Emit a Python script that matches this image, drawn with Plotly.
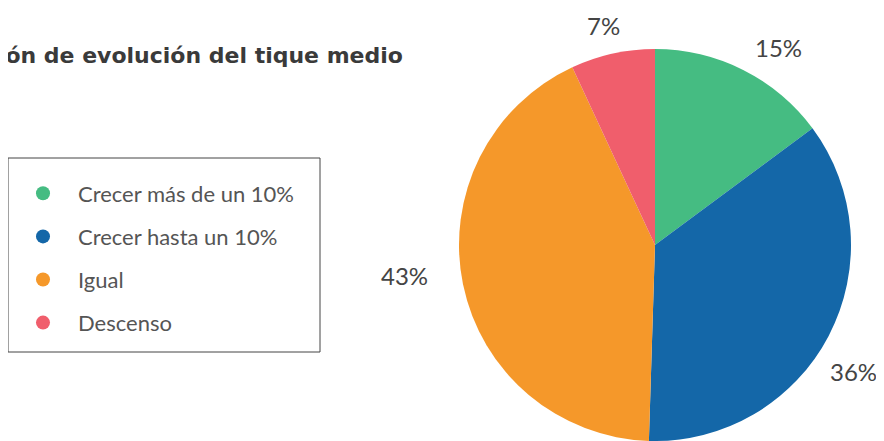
import math
import plotly.graph_objects as go

categories = ["Crecer más de un 10%", "Crecer hasta un 10%", "Igual", "Descenso"]
values = [15, 36, 43, 7]
labels_txt = ["15%", "36%", "43%", "7%"]
colors = ["#45BC82", "#1467A8", "#F5982A", "#F05E6C"]
title_text = "Previsión de evolución del tique medio"

OFF = 8  # page body margin
W, H = 884 - OFF, 441 - OFF


def px(x):
    return (x - OFF) / W


def py(y):
    return 1 - (y - OFF) / H


cx, cy, R = 655, 245, 196

fig = go.Figure()
fig.add_trace(go.Pie(
    labels=categories, values=values, sort=False, direction="clockwise",
    rotation=0, marker=dict(colors=colors, line=dict(width=0)),
    textinfo="none", showlegend=False, hoverinfo="label+percent",
    domain=dict(x=[px(cx - R), px(cx + R)], y=[py(cy + R), py(cy - R)]),
))

# legend entries as circles
for c, col in zip(categories, colors):
    fig.add_trace(go.Scatter(x=[None], y=[None], mode="markers", name=c,
                             legendgroup=c,
                             marker=dict(symbol="circle", size=14, color=col)))

# outside percentage labels, placed near slice mid-angles
total = sum(values)
cum = 0
dists = [1.19, 1.2, 1.29, 1.153]
shifts = [5.2, 4.9, 4.6, -0.8]
for v, t, d, s in zip(values, labels_txt, dists, shifts):
    mid = (cum + v / 2) / total * 2 * math.pi + math.radians(s)
    cum += v
    lx = cx + d * R * math.sin(mid)
    ly = cy - d * R * math.cos(mid)
    fig.add_annotation(x=px(lx), y=py(ly), xref="paper", yref="paper",
                       xanchor="center", yanchor="middle",
                       text=t, showarrow=False,
                       font=dict(size=24, color="#444444", family="Lato"))

fig.add_annotation(x=px(405), y=py(55), xref="paper", yref="paper",
                   xanchor="right", yanchor="middle", text="<b>" + title_text + "</b>",
                   showarrow=False, font=dict(size=22, color="#3a3a3a", family="DejaVu Sans"))

fig.add_shape(type="rect", xref="paper", yref="paper",
              x0=px(8), x1=px(320), y0=py(158), y1=py(352),
              line=dict(color="#444444", width=1))

fig.update_layout(
    width=W, height=H, margin=dict(l=0, r=0, t=0, b=0),
    paper_bgcolor="white", plot_bgcolor="white",
    xaxis=dict(visible=False), yaxis=dict(visible=False),
    legend=dict(x=px(8), y=py(172.5), xanchor="left", yanchor="top",
                bgcolor="rgba(0,0,0,0)", borderwidth=0,
                font=dict(size=22, color="#555555", family="Lato"),
                itemwidth=60, tracegroupgap=11.5),
)

fig.write_html("out.html")
